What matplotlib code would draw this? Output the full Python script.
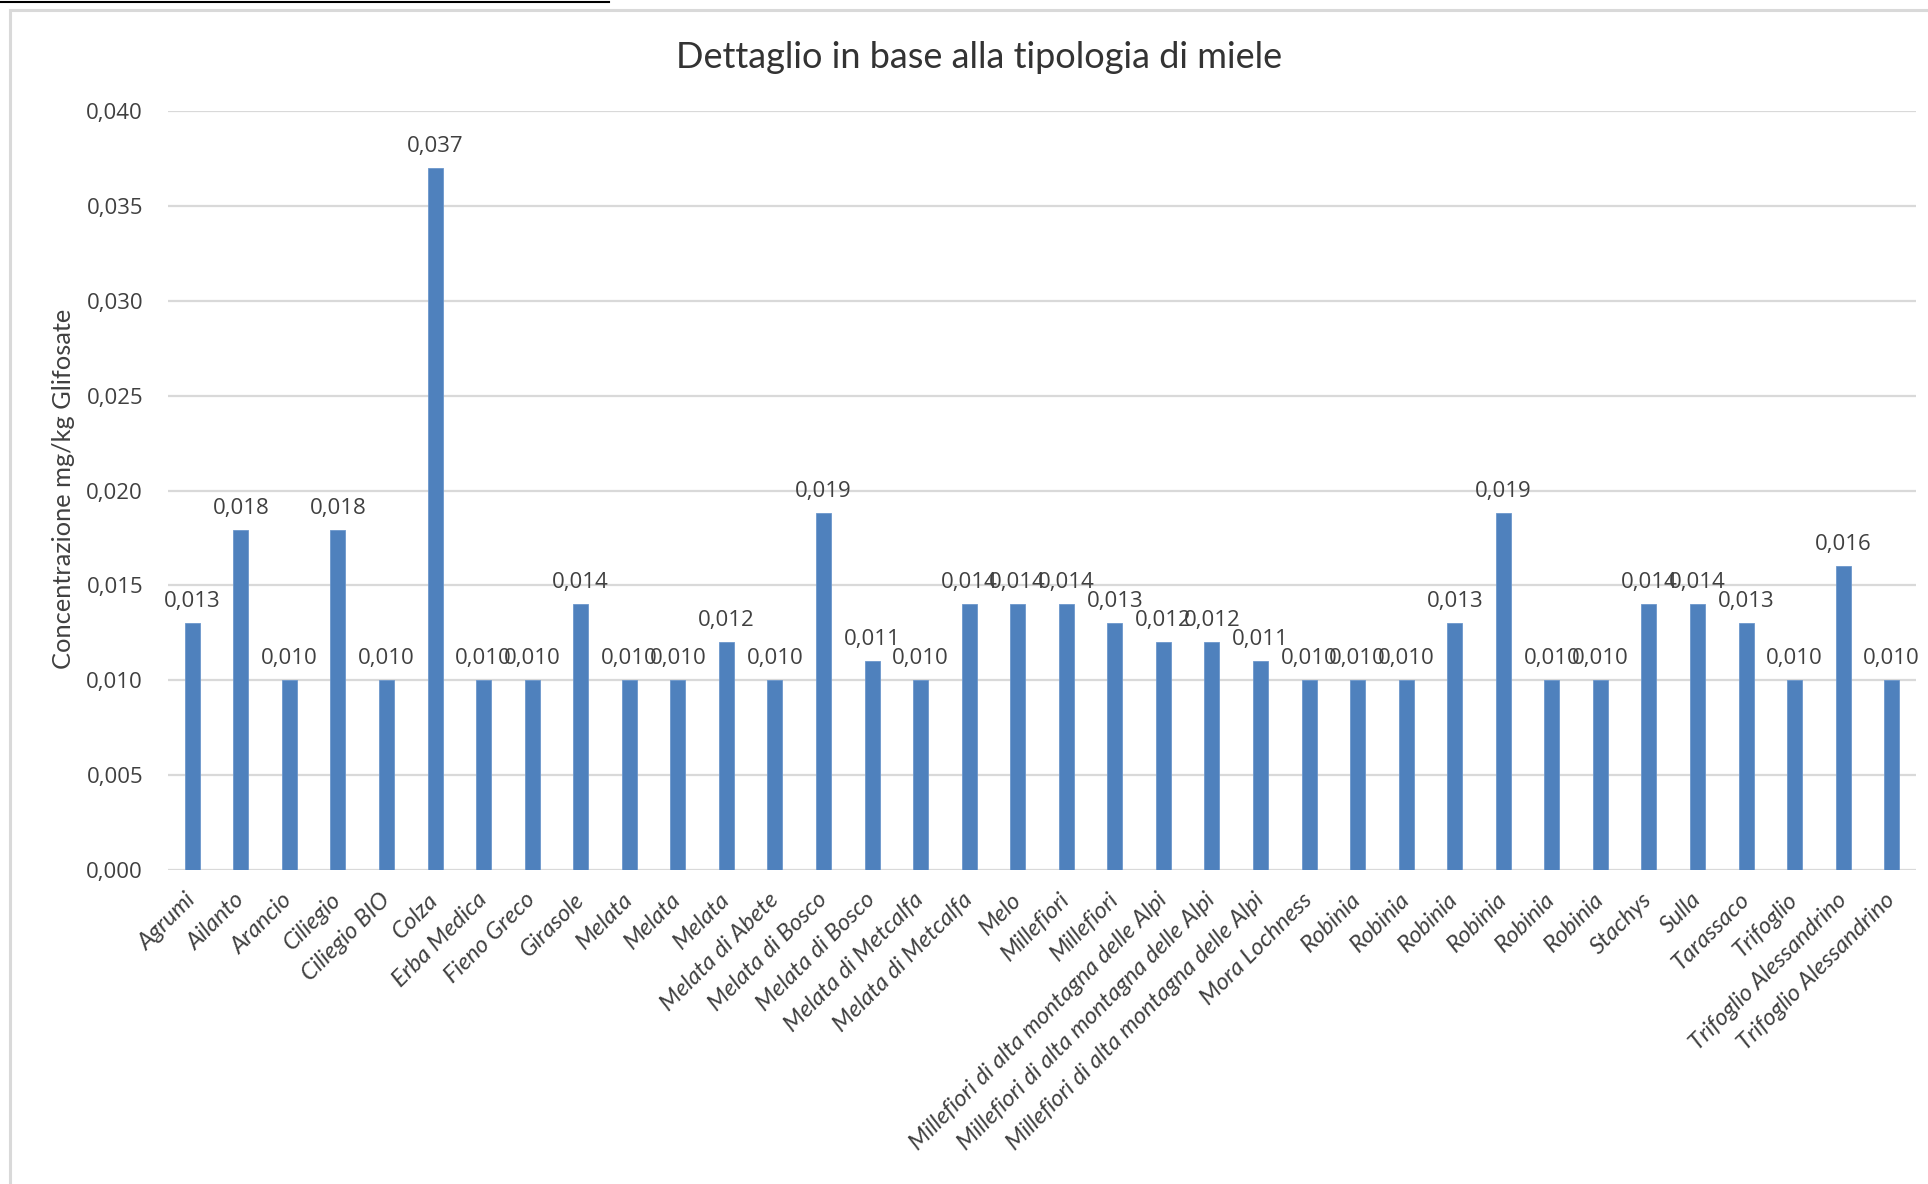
import matplotlib
matplotlib.use("Agg")
import matplotlib.pyplot as plt
import numpy as np
from matplotlib.ticker import FuncFormatter, MultipleLocator
from matplotlib.patches import Rectangle
from matplotlib.lines import Line2D

# tipologie di miele (asse x)
categorie = [
    "Agrumi", "Ailanto", "Arancio", "Ciliegio", "Ciliegio BIO", "Colza",
    "Erba Medica", "Fieno Greco", "Girasole", "Melata", "Melata", "Melata",
    "Melata di Abete", "Melata di Bosco", "Melata di Bosco",
    "Melata di Metcalfa", "Melata di Metcalfa", "Melo", "Millefiori",
    "Millefiori",
    "Millefiori di alta montagna delle Alpi",
    "Millefiori di alta montagna delle Alpi",
    "Millefiori di alta montagna delle Alpi",
    "Mora Lochness", "Robinia", "Robinia", "Robinia", "Robinia", "Robinia",
    "Robinia", "Stachys", "Sulla", "Tarassaco", "Trifoglio",
    "Trifoglio Alessandrino", "Trifoglio Alessandrino",
]

# concentrazione mg/kg glifosate
valori = [
    0.013, 0.0179, 0.010, 0.0179, 0.010, 0.037,
    0.010, 0.010, 0.014, 0.010, 0.010, 0.012,
    0.010, 0.0188, 0.011,
    0.010, 0.014, 0.014, 0.014,
    0.013,
    0.012, 0.012, 0.011,
    0.010, 0.010, 0.010, 0.013, 0.0188, 0.010,
    0.010, 0.014, 0.014, 0.013, 0.010,
    0.016, 0.010,
]

titolo = "Dettaglio in base alla tipologia di miele"
etichetta_y = "Concentrazione mg/kg Glifosate"

W, H = 1928, 1184
fig = plt.figure(figsize=(W / 100, H / 100), dpi=100)
ax = fig.add_axes([168 / W, 1 - 870 / H, (1916 - 168) / W, (870 - 111) / H])

x = np.arange(len(categorie))
ax.bar(x, valori, width=0.31, color="#4F81BD", edgecolor="#6C97CC", linewidth=0.6, zorder=3)

virgola = lambda v: f"{v:.3f}".replace(".", ",")

for xi, v in zip(x, valori):
    ax.annotate(virgola(v), (xi, v), xytext=(0, 8), textcoords="offset points",
                ha="center", va="bottom", fontsize=16, color="#404040",
                family="Open Sans")

ax.set_xlim(-0.5, len(categorie) - 0.5)
ax.set_ylim(0, 0.040)
ax.yaxis.set_major_locator(MultipleLocator(0.005))
ax.yaxis.set_major_formatter(FuncFormatter(lambda v, p: virgola(v)))
ax.grid(axis="y", color="#D9D9D9", linewidth=1.6, zorder=0)
ax.set_axisbelow(True)
for s in ax.spines.values():
    s.set_visible(False)
ax.tick_params(axis="both", length=0)
ax.tick_params(axis="y", pad=18, labelsize=16, labelcolor="#404040")
for t in ax.get_yticklabels():
    t.set_family("Open Sans")

ax.set_xticks(x)
ax.set_xticklabels(categorie, rotation=45, ha="right", va="center",
                   rotation_mode="anchor", fontsize=17, color="#404040",
                   family="Lato", style="italic")
ax.tick_params(axis="x", pad=19)

fig.text(64 / W, 1 - 489 / H, etichetta_y, rotation=90, ha="center", va="center",
         fontsize=18.3, color="#404040", family="Lato")
fig.text(979 / W, 1 - 57 / H, titolo, ha="center", va="center",
         fontsize=26, color="#333333", family="Lato")

# cornice del grafico e bordo dello screenshot
fig.patches.append(Rectangle((10 / W, -0.1), 1.2, 1.1 - 10 / H, transform=fig.transFigure,
                             fill=False, edgecolor="#D9D9D9", linewidth=2.2))
fig.lines.append(Line2D([0, 609 / W], [1 - 2 / H, 1 - 2 / H], transform=fig.transFigure,
                        color="black", linewidth=1.5))

fig.savefig("out.png", dpi=100, facecolor="white")
